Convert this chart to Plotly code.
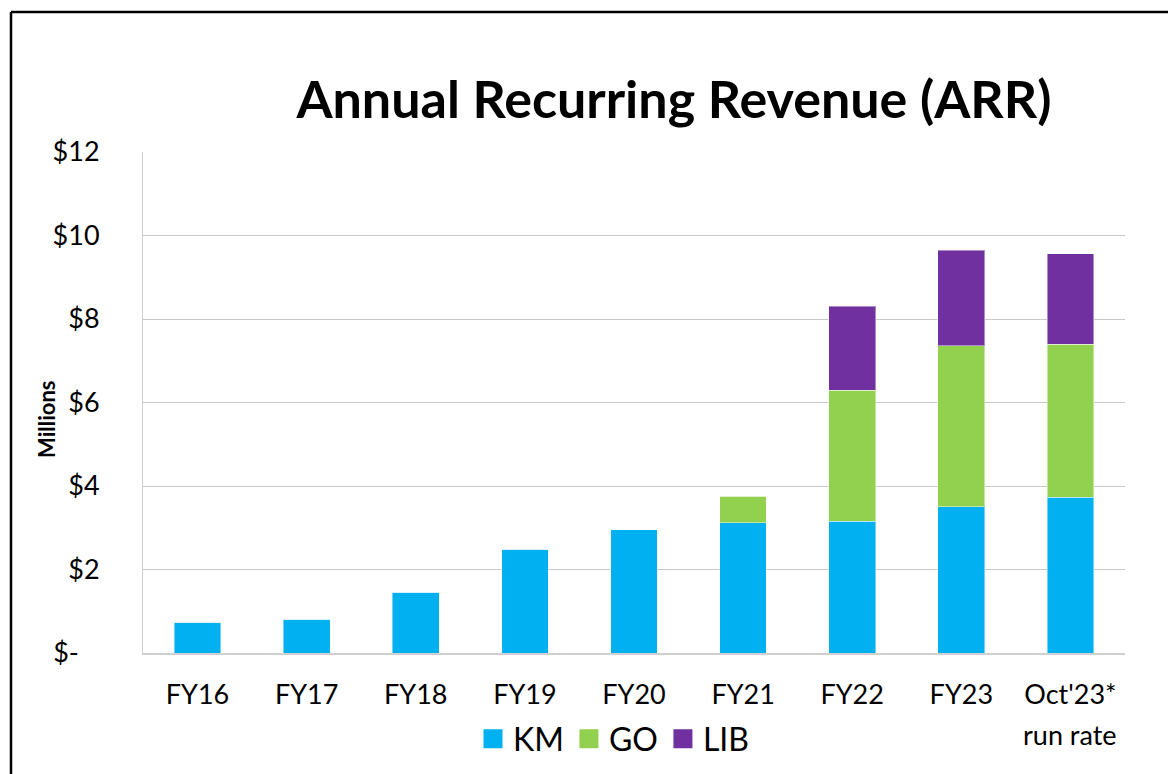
import plotly.graph_objects as go

categories = ["FY16", "FY17", "FY18", "FY19", "FY20", "FY21", "FY22", "FY23", "Oct'23*"]
km = [0.74, 0.81, 1.46, 2.48, 2.95, 3.12, 3.16, 3.50, 3.73]
go_vals = [0, 0, 0, 0, 0, 0.64, 3.13, 3.86, 3.67]
lib = [0, 0, 0, 0, 0, 0, 2.01, 2.29, 2.16]
series_names = ["KM", "GO", "LIB"]
series_colors = ["#00B0F0", "#92D050", "#7030A0"]
ytickvals = [0, 2, 4, 6, 8, 10, 12]
yticktext = ["$-\u00a0\u00a0\u00a0", "$2", "$4", "$6", "$8", "$10", "$12"]
last_label_line2 = "run rate"

FONT = "Lato"
W, H = 1176, 774
OFF = 8  # page body margin offset
# plot area in page pixels: x 143..1125, y 152..653
L = 143 - OFF
T = 152 - OFF
R = W - (1125 - OFF)
B = H - (653 - OFF)
pw, ph = W - L - R, H - T - B


def px_x(page_x):
    return (page_x - OFF - L) / pw


def px_y(page_y):
    return (H - B - (page_y - OFF)) / ph


fig = go.Figure()
edge = dict(width=1, color="rgba(255,255,255,0.45)")
for name, vals, col in zip(series_names, [km, go_vals, lib], series_colors):
    fig.add_bar(x=categories, y=vals, name=name, marker=dict(color=col, line=edge), showlegend=False)
# legend swatches (bigger squares than bar legend symbols)
for name, col in zip(series_names, series_colors):
    fig.add_scatter(x=[None], y=[None], mode="markers", name=name,
                    marker=dict(symbol="square", size=16, color=col, line=dict(color=col, width=3)))

fig.update_layout(
    width=W, height=H,
    margin=dict(l=L, r=R, t=T, b=B),
    barmode="stack", bargap=0.572,
    paper_bgcolor="white", plot_bgcolor="white",
    font=dict(family=FONT, color="black", size=27),
    title=dict(text="<b>Annual Recurring Revenue (ARR)</b>", font=dict(size=52, family=FONT, color="black"),
               xref="container", yref="container", x=(674 - OFF) / W, y=1 - (100 - OFF) / H,
               xanchor="center", yanchor="middle"),
    legend=dict(orientation="h", x=px_x(473), y=px_y(739), xanchor="left", yanchor="middle",
                font=dict(size=32, family=FONT), traceorder="normal", itemwidth=30,
                bgcolor="rgba(0,0,0,0)"),
    showlegend=True,
)
fig.update_xaxes(showgrid=False, showline=True, linecolor="#D0D0D0", linewidth=1.5,
                 ticks="", tickfont=dict(size=27, family=FONT), ticklabelstandoff=17)
fig.update_yaxes(range=[0, 12], tickvals=ytickvals, ticktext=yticktext,
                 showgrid=True, gridcolor="#C8C8C8", gridwidth=1,
                 showline=True, linecolor="#D0D0D0", linewidth=1,
                 zeroline=False, ticks="", tickfont=dict(size=27, family=FONT),
                 ticklabelstandoff=37)

# y axis title
fig.add_annotation(text="<b>Millions</b>", textangle=-90, xref="paper", yref="paper",
                   x=px_x(47), y=px_y(420), showarrow=False, font=dict(size=22, family=FONT),
                   xanchor="center", yanchor="middle")
# second line of last category label
fig.add_annotation(text=last_label_line2, x=categories[-1], xref="x", yref="paper", y=px_y(735),
                   showarrow=False, font=dict(size=27, family=FONT), xanchor="center", yanchor="middle")

# outer frame (only left and top edges visible in the crop)
x0 = px_x(11)
y1 = px_y(12)
fig.add_shape(type="line", xref="paper", yref="paper", x0=x0, x1=x0, y0=-B / ph - 0.05, y1=y1,
              line=dict(color="black", width=2.5))
fig.add_shape(type="line", xref="paper", yref="paper", x0=x0, x1=(W - L) / pw + 0.05, y0=y1, y1=y1,
              line=dict(color="black", width=2.5))

fig.write_html("out.html")
